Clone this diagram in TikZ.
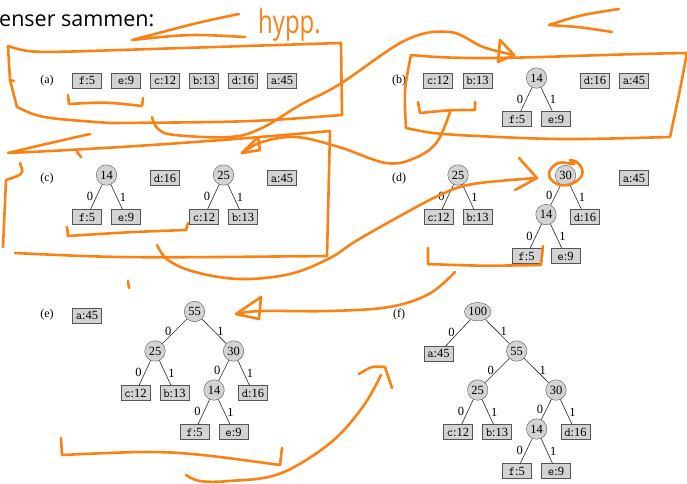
\documentclass[tikz,border=0pt]{standalone}
\usepackage{fontspec}
\setmainfont{Liberation Serif}
\newfontfamily\overskrift{Open Sans}
\usetikzlibrary{shapes.geometric}
\definecolor{oransje}{RGB}{250,130,20}
\definecolor{boksgraa}{RGB}{211,211,211}
\definecolor{kantgraa}{RGB}{85,85,85}
\newcommand{\tegn}{\ttfamily}
\tikzset{
  blad/.style={draw=kantgraa, fill=boksgraa, minimum width=29pt, minimum height=15pt,
    inner sep=1pt, font=\fontsize{12.5}{14}\selectfont},
  knute/.style={circle, draw=kantgraa, fill=boksgraa, minimum size=20.5pt,
    inner sep=0pt, font=\fontsize{12.5}{14}\selectfont},
  kant/.style={font=\fontsize{12.5}{14}\selectfont, inner sep=3pt, text=black},
  gren/.style={black!85, line width=0.6pt},
  panel/.style={font=\fontsize{12}{14}\selectfont},
  penn/.style={draw=oransje, line width=2.6pt, line cap=round, line join=round}
}
\begin{document}
\begin{tikzpicture}[x=1pt, y=-1pt]
  \useasboundingbox (0,0) rectangle (687,483);

  %% Overskrift
  \node[anchor=base west, inner sep=0pt, font=\overskrift\fontsize{21.5}{24}\selectfont]
    (tittel) at (-1,26) {enser sammen:};

  %% (a)
  \node[panel] (lbla) at (47,80.5) {(a)};
  \node[blad] (af5)  at (87,80.5)  {{\tegn f}:5};
  \node[blad] (ae9)  at (126,80.5) {{\tegn e}:9};
  \node[blad] (ac12) at (165,80.5) {{\tegn c}:12};
  \node[blad] (ab13) at (204,80.5) {{\tegn b}:13};
  \node[blad] (ad16) at (243,80.5) {{\tegn d}:16};
  \node[blad] (aa45) at (282,80.5) {{\tegn a}:45};

  %% (b)
  \node[panel] (lblb) at (399,80.5) {(b)};
  \node[blad] (bc12) at (438,80.5) {{\tegn c}:12};
  \node[blad] (bb13) at (477.5,80.5) {{\tegn b}:13};
  \node[knute] (b14) at (536.5,78) {14};
  \node[blad] (bf5)  at (517,119) {{\tegn f}:5};
  \node[blad] (be9)  at (556,119) {{\tegn e}:9};
  \node[blad] (bd16) at (595,80.5) {{\tegn d}:16};
  \node[blad] (ba45) at (634,80.5) {{\tegn a}:45};
  \draw[gren] (b14) -- (bf5) node[midway, left, kant] {0};
  \draw[gren] (b14) -- (be9) node[midway, right, kant] {1};

  %% (c)
  \node[panel] (lblc) at (47,178.5) {(c)};
  \node[knute] (c14) at (106.5,175) {14};
  \node[blad] (cf5)  at (87,217)  {{\tegn f}:5};
  \node[blad] (ce9)  at (126,217) {{\tegn e}:9};
  \node[blad] (cd16) at (165,178) {{\tegn d}:16};
  \node[knute] (c25) at (223.5,175) {25};
  \node[blad] (cc12) at (204,217) {{\tegn c}:12};
  \node[blad] (cb13) at (243,217) {{\tegn b}:13};
  \node[blad] (ca45) at (282,178) {{\tegn a}:45};
  \draw[gren] (c14) -- (cf5) node[midway, left, kant] {0};
  \draw[gren] (c14) -- (ce9) node[midway, right, kant] {1};
  \draw[gren] (c25) -- (cc12) node[midway, left, kant] {0};
  \draw[gren] (c25) -- (cb13) node[midway, right, kant] {1};

  %% (d)
  \node[panel] (lbld) at (399,178.5) {(d)};
  \node[knute] (d25) at (458,175) {25};
  \node[blad] (dc12) at (438.5,217) {{\tegn c}:12};
  \node[blad] (db13) at (477.5,217) {{\tegn b}:13};
  \node[knute] (d30) at (565.5,175.5) {30};
  \node[knute] (d14) at (546,214.5) {14};
  \node[blad] (dd16) at (585,217) {{\tegn d}:16};
  \node[blad] (df5)  at (526.5,256) {{\tegn f}:5};
  \node[blad] (de9)  at (565.5,256) {{\tegn e}:9};
  \node[blad] (da45) at (634,178) {{\tegn a}:45};
  \draw[gren] (d25) -- (dc12) node[midway, left, kant] {0};
  \draw[gren] (d25) -- (db13) node[midway, right, kant] {1};
  \draw[gren] (d30) -- (d14) node[midway, left, kant] {0};
  \draw[gren] (d30) -- (dd16) node[midway, right, kant] {1};
  \draw[gren] (d14) -- (df5) node[midway, left, kant] {0};
  \draw[gren] (d14) -- (de9) node[midway, right, kant] {1};

  %% (e)
  \node[panel] (lble) at (47,314.5) {(e)};
  \node[blad] (ea45) at (87,315.5) {{\tegn a}:45};
  \node[knute] (e55) at (194.5,311.5) {55};
  \node[knute] (e25) at (155,351) {25};
  \node[knute] (e30) at (233.5,351) {30};
  \node[blad] (ec12) at (135.5,393) {{\tegn c}:12};
  \node[blad] (eb13) at (174.5,393) {{\tegn b}:13};
  \node[knute] (e14) at (214,390) {14};
  \node[blad] (ed16) at (253,393) {{\tegn d}:16};
  \node[blad] (ef5)  at (194.5,432) {{\tegn f}:5};
  \node[blad] (ee9)  at (233.5,432) {{\tegn e}:9};
  \draw[gren] (e55) -- (e25) node[midway, left, kant] {0};
  \draw[gren] (e55) -- (e30) node[midway, right, kant] {1};
  \draw[gren] (e25) -- (ec12) node[midway, left, kant] {0};
  \draw[gren] (e25) -- (eb13) node[midway, right, kant] {1};
  \draw[gren] (e30) -- (e14) node[midway, left, kant] {0};
  \draw[gren] (e30) -- (ed16) node[midway, right, kant] {1};
  \draw[gren] (e14) -- (ef5) node[midway, left, kant] {0};
  \draw[gren] (e14) -- (ee9) node[midway, right, kant] {1};

  %% (f)
  \node[panel] (lblf) at (399,314.5) {(f)};
  \node[knute, ellipse, minimum width=25pt, minimum height=18.5pt] (f100) at (477.7,311.7) {100};
  \node[blad] (fa45) at (438.5,353.7) {{\tegn a}:45};
  \node[knute] (f55) at (516.7,351) {55};
  \node[knute] (f25) at (477.7,390) {25};
  \node[knute] (f30) at (556,390) {30};
  \node[blad] (fc12) at (458,432) {{\tegn c}:12};
  \node[blad] (fb13) at (497,432) {{\tegn b}:13};
  \node[knute] (f14) at (536.7,429) {14};
  \node[blad] (fd16) at (575.5,432) {{\tegn d}:16};
  \node[blad] (ff5)  at (516.7,471) {{\tegn f}:5};
  \node[blad] (fe9)  at (556,471) {{\tegn e}:9};
  \draw[gren] (f100) -- (fa45) node[midway, left, kant] {0};
  \draw[gren] (f100) -- (f55) node[midway, right, kant] {1};
  \draw[gren] (f55) -- (f25) node[midway, left, kant] {0};
  \draw[gren] (f55) -- (f30) node[midway, right, kant] {1};
  \draw[gren] (f25) -- (fc12) node[midway, left, kant] {0};
  \draw[gren] (f25) -- (fb13) node[midway, right, kant] {1};
  \draw[gren] (f30) -- (f14) node[midway, left, kant] {0};
  \draw[gren] (f30) -- (fd16) node[midway, right, kant] {1};
  \draw[gren] (f14) -- (ff5) node[midway, left, kant] {0};
  \draw[gren] (f14) -- (fe9) node[midway, right, kant] {1};

  %% Haandskrift
  \node[anchor=base west, inner sep=0pt, text=oransje,
    font=\overskrift\fontsize{24}{26}\selectfont] (hypp) at (258,33) {\scalebox{1}[1.35]{hypp.}};
  \draw[penn] (239,14) .. controls (200,22) .. (132,40) .. controls (190,34) .. (245,37);
  \draw[penn] (619,9) .. controls (580,15) .. (549,25) .. controls (580,27) .. (612,32);

  %% ramme (a)
  \draw[penn] (8,46) .. controls (30,53) .. (120,50) -- (341,43) -- (342,115)
    .. controls (250,122) .. (110,123) .. controls (40,118) .. (17,107) -- (10,80) -- cycle;
  \draw[penn] (10,80) -- (14,81);
  \draw[penn] (68,95) -- (69,104) .. controls (105,102) .. (142,106) -- (143,98);

  %% pil (a) -> (b)
  \draw[penn] plot[smooth, tension=0.6] coordinates {(152,117) (158,129) (175,135) (230,137)
    (262,128) (300,105) (340,84) (406,40) (450,32) (483,47) (514,55)};
  \draw[penn] (500,40) -- (514,55) -- (498,62) -- cycle;

  %% ramme (b)
  \draw[penn] (411,55) .. controls (480,62) and (560,55) .. (687,53) .. controls (680,90) .. (670,137)
    .. controls (560,140) .. (457,135) .. controls (430,133) .. (406,128) .. controls (404,90) .. cycle;
  \draw[penn] (418,102) -- (420,113) .. controls (450,110) .. (475,110) -- (475,102);

  %% pil (b) -> (c)
  \draw[penn] plot[smooth, tension=0.6] coordinates {(450,112) (437,142) (415,158) (386,163)
    (339,147) (296,137) (262,142) (242,153)};
  \draw[penn] (242,153) -- (258,137) -- (260,150) -- cycle;

  %% ramme (c)
  \draw[penn] (90,134) .. controls (50,143) .. (8,153) .. controls (120,148) and (230,140) .. (330,131)
    -- (327,256) .. controls (120,258) .. (15,253);
  \draw[penn] (77,152) -- (81,157);
  \draw[penn] (20,163) .. controls (24,174) .. (6,180) -- (3,247);
  \draw[penn] (67,227) -- (68,236) .. controls (130,232) .. (186,230) -- (188,223);

  %% pil (c) -> (d)
  \draw[penn] plot[smooth, tension=0.6] coordinates {(157,245) (168,260) (195,272) (240,279)
    (290,274) (330,258) (356,241) (400,216) (440,195) (473,184) (537,178)};
  \draw[penn] (519,158) -- (537,178) -- (515,190);
  \draw[penn] plot[smooth cycle, tension=0.7] coordinates {(574,164) (558,163) (549,174)
    (557,184) (571,184) (582,175) (579,164) (570,160)};
  \draw[penn] (428,248) -- (428,264) .. controls (480,266) .. (541,265) -- (543,246);
  \draw[penn] (128,281) -- (129,288);

  %% pil (d) -> (e)
  \draw[penn] plot[smooth, tension=0.6] coordinates {(455,272) (429,294) (389,307) (329,311)
    (261,311) (236,314)};
  \draw[penn] (236,314) -- (261,297) -- (259,319) -- cycle;
  \draw[penn] (61,438) -- (62,455) .. controls (170,450) .. (280,465) -- (282,448);

  %% pil (e) -> (f)
  \draw[penn] plot[smooth, tension=0.6] coordinates {(186,475) (200,481) (229,481) (279,474)
    (329,444) (362,408) (381,375)};
  \draw[penn] (359,374) .. controls (372,366) .. (385,367) -- (392,388);
\end{tikzpicture}
\end{document}
